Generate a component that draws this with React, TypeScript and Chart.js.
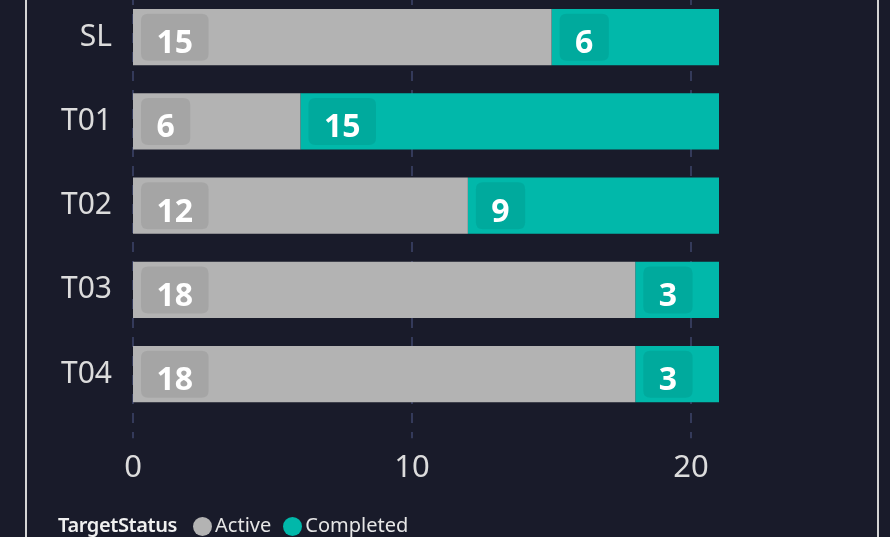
import React, { useEffect, useRef } from 'react';
import { Chart, registerables } from 'chart.js';

Chart.register(...registerables);

const categories = ['SL', 'T01', 'T02', 'T03', 'T04'];
const activeValues = [15, 6, 12, 18, 18];
const completedValues = [6, 15, 9, 3, 3];
const xTicks = [0, 10, 20];
const legendTitle = 'TargetStatus';
const seriesNames = ['Active', 'Completed'];
const seriesColors = ['#b3b3b3', '#01b8aa'];

const FONT = '"Noto Sans", "Open Sans", sans-serif';
const BG = '#191b2a';

const dashGridPlugin = {
  id: 'dashGrid',
  beforeDatasetsDraw(chart: any) {
    const { ctx, chartArea, scales } = chart;
    const x = scales.x;
    ctx.save();
    ctx.strokeStyle = '#343a5a';
    ctx.lineWidth = 2;
    ctx.setLineDash([10, 9]);
    xTicks.forEach((v) => {
      const px = Math.round(x.getPixelForValue(v));
      ctx.beginPath();
      ctx.moveTo(px, chartArea.top);
      ctx.lineTo(px, chartArea.bottom + 22);
      ctx.stroke();
    });
    ctx.restore();
  },
};

function roundRect(ctx: CanvasRenderingContext2D, x: number, y: number, w: number, h: number, r: number) {
  ctx.beginPath();
  ctx.moveTo(x + r, y);
  ctx.lineTo(x + w - r, y);
  ctx.quadraticCurveTo(x + w, y, x + w, y + r);
  ctx.lineTo(x + w, y + h - r);
  ctx.quadraticCurveTo(x + w, y + h, x + w - r, y + h);
  ctx.lineTo(x + r, y + h);
  ctx.quadraticCurveTo(x, y + h, x, y + h - r);
  ctx.lineTo(x, y + r);
  ctx.quadraticCurveTo(x, y, x + r, y);
  ctx.closePath();
}

const labelPlugin = {
  id: 'boxLabels',
  afterDatasetsDraw(chart: any) {
    const { ctx } = chart;
    ctx.save();
    ctx.font = `bold 32px ${FONT}`;
    chart.data.datasets.forEach((ds: any, di: number) => {
      const meta = chart.getDatasetMeta(di);
      meta.data.forEach((bar: any, i: number) => {
        const v = ds.data[i];
        if (!v) return;
        const p = bar.getProps(['x', 'y', 'base'], true);
        const left = Math.min(p.x, p.base);
        const text = String(v);
        const tw = ctx.measureText(text).width;
        const bw = tw + 31;
        const bh = 47;
        const bx = left + 8;
        const by = p.y - bh / 2;
        ctx.fillStyle = 'rgba(0,0,0,0.075)';
        roundRect(ctx, bx, by, bw, bh, 7);
        ctx.fill();
        ctx.fillStyle = '#ffffff';
        ctx.textAlign = 'center';
        ctx.textBaseline = 'alphabetic';
        ctx.fillText(text, bx + bw / 2, p.y + 16);
      });
    });
    ctx.restore();
  },
};

function ChartView() {
  const ref = useRef<HTMLCanvasElement | null>(null);
  useEffect(() => {
    if (!ref.current) return;
    const chart = new Chart(ref.current, {
      type: 'bar',
      data: {
        labels: categories,
        datasets: [
          {
            label: seriesNames[0],
            data: activeValues,
            backgroundColor: seriesColors[0],
            borderWidth: 0,
            barPercentage: 0.665,
            categoryPercentage: 1,
          },
          {
            label: seriesNames[1],
            data: completedValues,
            backgroundColor: seriesColors[1],
            borderWidth: 0,
            barPercentage: 0.665,
            categoryPercentage: 1,
          },
        ],
      },
      options: {
        indexAxis: 'y',
        animation: false,
        responsive: false,
        maintainAspectRatio: false,
        devicePixelRatio: 1,
        layout: { padding: { left: 0, right: 171, top: 35, bottom: 50.75 } },
        plugins: {
          legend: { display: false },
          tooltip: { enabled: false },
        },
        scales: {
          x: {
            stacked: true,
            min: 0,
            max: 21,
            afterBuildTicks: (s: any) => {
              s.ticks = xTicks.map((v) => ({ value: v }));
            },
            afterFit: (s: any) => {
              s.height = 70;
              s.paddingLeft = 0;
              s.paddingRight = 0;
            },
            grid: { display: false, drawTicks: false },
            border: { display: false },
            ticks: {
              color: '#dcdcdc',
              font: { family: FONT, size: 31 },
              padding: 33,
              maxRotation: 0,
            },
          },
          y: {
            stacked: true,
            afterFit: (s: any) => {
              s.width = 133;
              s.paddingTop = 0;
              s.paddingBottom = 0;
            },
            grid: { display: false, drawTicks: false },
            border: { display: false },
            ticks: {
              color: '#dcdcdc',
              font: { family: FONT, size: 30 },
              padding: 21,
            },
          },
        },
      },
      plugins: [dashGridPlugin, labelPlugin],
    });
    return () => chart.destroy();
  }, []);
  return (
    <canvas
      ref={ref}
      width={890}
      height={577}
      style={{ position: 'absolute', left: 0, top: -40, width: 890, height: 577 }}
    />
  );
}

export default function App() {
  return (
    <div
      style={{
        position: 'fixed',
        left: 0,
        top: 0,
        width: 890,
        height: 537,
        overflow: 'hidden',
        background: BG,
        fontFamily: FONT,
      }}
    >
      <ChartView />
      <div
        style={{
          position: 'absolute',
          left: 58,
          top: 514,
          height: 21,
          display: 'flex',
          alignItems: 'center',
          fontSize: 20,
          lineHeight: '21px',
          color: '#e6e6e6',
          whiteSpace: 'nowrap',
        }}
      >
        <span style={{ fontWeight: 600, color: '#f0f0f0', marginRight: 16, letterSpacing: '-0.4px' }}>
          {legendTitle}
        </span>
        {seriesNames.map((n, i) => (
          <span key={n} style={{ display: 'flex', alignItems: 'center', marginRight: 12 }}>
            <span
              style={{
                display: 'inline-block',
                width: 19,
                height: 19,
                borderRadius: '50%',
                background: seriesColors[i],
                marginRight: 3,
                marginTop: 3,
              }}
            />
            <span>{n}</span>
          </span>
        ))}
      </div>
      <div
        style={{
          position: 'absolute',
          left: 25,
          top: -10,
          width: 854,
          height: 600,
          boxSizing: 'border-box',
          borderLeft: '2px solid #d4d4d4',
          borderRight: '2px solid #d4d4d4',
          pointerEvents: 'none',
        }}
      />
    </div>
  );
}
